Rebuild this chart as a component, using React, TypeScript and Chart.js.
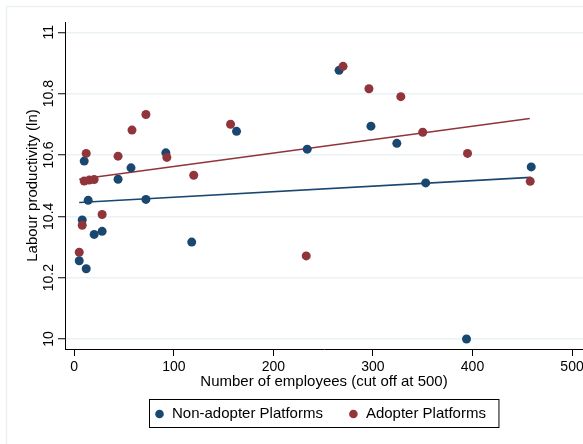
import React, { useEffect, useRef } from "react";
import { Chart, registerables } from "chart.js";

Chart.register(...registerables);

// ---- Data ----
const nonAdopterX = [5, 12, 8, 20, 28, 118, 10, 14, 44, 57, 72, 92, 163, 234, 266, 298, 324, 353, 459, 394];
const nonAdopterY = [10.255, 10.229, 10.388, 10.341, 10.351, 10.316, 10.58, 10.452, 10.521, 10.558, 10.455, 10.607, 10.677, 10.619, 10.876, 10.694, 10.638, 10.509, 10.561, 10.0];

const adopterX = [5, 8, 28, 12, 10, 15, 20, 44, 58, 72, 93, 120, 157, 270, 296, 328, 350, 395, 458, 233];
const adopterY = [10.283, 10.371, 10.406, 10.605, 10.515, 10.518, 10.52, 10.596, 10.681, 10.732, 10.592, 10.534, 10.7, 10.889, 10.816, 10.79, 10.674, 10.605, 10.514, 10.271];

const nonAdopterFitX = [5, 458.5];
const nonAdopterFitY = [10.445, 10.527];
const adopterFitX = [5, 457.5];
const adopterFitY = [10.521, 10.719];

const xTicks = [0, 100, 200, 300, 400, 500];
const yTicks = [10, 10.2, 10.4, 10.6, 10.8, 11];

const xTitle = "Number of employees (cut off at 500)";
const yTitle = "Labour productivity (ln)";
const nonAdopterLabel = "Non-adopter Platforms";
const adopterLabel = "Adopter Platforms";

const NAVY = "#1A476F";
const MAROON = "#90353B";
const GRID = "#EAF2F3";
const FONT = "'Liberation Sans', Arial, Helvetica, sans-serif";

const pts = (xs: number[], ys: number[]) => xs.map((x, i) => ({ x, y: ys[i] }));

const framePlugin = {
  id: "frame",
  beforeDraw(chart: any) {
    const ctx = chart.ctx;
    ctx.save();
    ctx.strokeStyle = GRID;
    ctx.lineWidth = 1.5;
    ctx.beginPath();
    ctx.moveTo(6.5, chart.height);
    ctx.lineTo(6.5, 6.5);
    ctx.lineTo(chart.width, 6.5);
    ctx.stroke();
    ctx.restore();
  },
};

const boxLegendPlugin = {
  id: "boxLegend",
  afterDraw(chart: any) {
    const ctx = chart.ctx;
    const items = chart.data.datasets.filter((d: any) => d.label);
    ctx.save();
    ctx.font = `15px ${FONT}`;
    ctx.textBaseline = "middle";
    ctx.textAlign = "left";
    const widths = items.map((d: any) => ctx.measureText(d.label).width);
    const padL = 10, dotGap = 12.5, itemGap = 30.5, padR = 13;
    let W = padL + padR;
    widths.forEach((w: number, i: number) => {
      W += dotGap + w + (i < widths.length - 1 ? itemGap : 0);
    });
    const area = chart.chartArea;
    const cx = (area.left + area.right) / 2;
    const left = Math.round(cx - W / 2) + 0.5;
    const top = chart.height - 45 + 0.5;
    const h = 28;
    ctx.strokeStyle = "#000";
    ctx.lineWidth = 1;
    ctx.strokeRect(left, top, W, h);
    const cy = top + h / 2;
    let x = left + padL;
    items.forEach((d: any, i: number) => {
      ctx.fillStyle = d.backgroundColor;
      ctx.beginPath();
      ctx.arc(x, cy + 0.5, 4.3, 0, Math.PI * 2);
      ctx.fill();
      ctx.fillStyle = "#000";
      ctx.fillText(d.label, x + dotGap, cy);
      x += dotGap + widths[i] + itemGap;
    });
    ctx.restore();
  },
};

export default function App() {
  const ref = useRef<HTMLCanvasElement>(null);

  useEffect(() => {
    document.body.style.margin = "0";
    const canvas = ref.current;
    if (!canvas) return;
    const chart = new Chart(canvas, {
      type: "scatter",
      data: {
        datasets: [
          {
            label: nonAdopterLabel,
            data: pts(nonAdopterX, nonAdopterY),
            backgroundColor: NAVY,
            borderColor: NAVY,
            pointRadius: 4.5,
            pointBorderWidth: 0,
            order: 1,
          },
          {
            label: adopterLabel,
            data: pts(adopterX, adopterY),
            backgroundColor: MAROON,
            borderColor: MAROON,
            pointRadius: 4.5,
            pointBorderWidth: 0,
            order: 0,
          },
          {
            label: "",
            data: pts(nonAdopterFitX, nonAdopterFitY),
            showLine: true,
            borderColor: NAVY,
            backgroundColor: NAVY,
            borderWidth: 1.6,
            pointRadius: 0,
            order: 3,
          },
          {
            label: "",
            data: pts(adopterFitX, adopterFitY),
            showLine: true,
            borderColor: MAROON,
            backgroundColor: MAROON,
            borderWidth: 1.6,
            pointRadius: 0,
            order: 2,
          },
        ],
      } as any,
      options: {
        responsive: false,
        animation: false,
        events: [],
        layout: { autoPadding: false, padding: { top: 22, right: 0, bottom: 53, left: 0 } },
        plugins: {
          legend: { display: false },
          tooltip: { enabled: false },
        },
        scales: {
          x: {
            type: "linear",
            min: -9.3,
            max: 511,
            afterBuildTicks: (s: any) => {
              s.ticks = xTicks.map((v) => ({ value: v }));
            },
            afterFit: (s: any) => {
              s.height = 42;
              s.paddingLeft = 0;
              s.paddingRight = 0;
            },
            grid: {
              display: true,
              drawOnChartArea: false,
              drawTicks: true,
              tickLength: 7,
              tickColor: "#000",
              tickWidth: 1,
            },
            border: { display: true, color: "#000", width: 1 },
            ticks: {
              padding: -1,
              color: "#000",
              autoSkip: false,
              maxRotation: 0,
              font: { family: FONT, size: 14, lineHeight: 1.714 },
              callback: (v: any) => String(v),
            },
            title: {
              display: true,
              text: xTitle,
              color: "#000",
              font: { family: FONT, size: 15 },
              padding: { top: 0, bottom: 0 },
            },
          },
          y: {
            type: "linear",
            min: 9.9674,
            max: 11.0335,
            afterBuildTicks: (s: any) => {
              s.ticks = yTicks.map((v) => ({ value: v }));
            },
            afterFit: (s: any) => {
              s.width = 65;
              s.paddingTop = 0;
              s.paddingBottom = 0;
            },
            grid: {
              display: true,
              color: GRID,
              lineWidth: 1.5,
              drawTicks: true,
              tickLength: 7,
              tickColor: "#000",
              tickWidth: 1,
            },
            border: { display: true, color: "#000", width: 1 },
            ticks: {
              minRotation: 90,
              maxRotation: 90,
              crossAlign: "center",
              padding: -5,
              color: "#000",
              autoSkip: false,
              font: { family: FONT, size: 14 },
              callback: (v: any) => String(v),
            },
            title: {
              display: true,
              text: yTitle,
              color: "#000",
              font: { family: FONT, size: 15 },
              padding: { top: 24, bottom: 0 },
            },
          },
        },
      } as any,
      plugins: [framePlugin, boxLegendPlugin],
    });
    return () => chart.destroy();
  }, []);

  return <canvas ref={ref} width={583} height={444} style={{ display: "block" }} />;
}
